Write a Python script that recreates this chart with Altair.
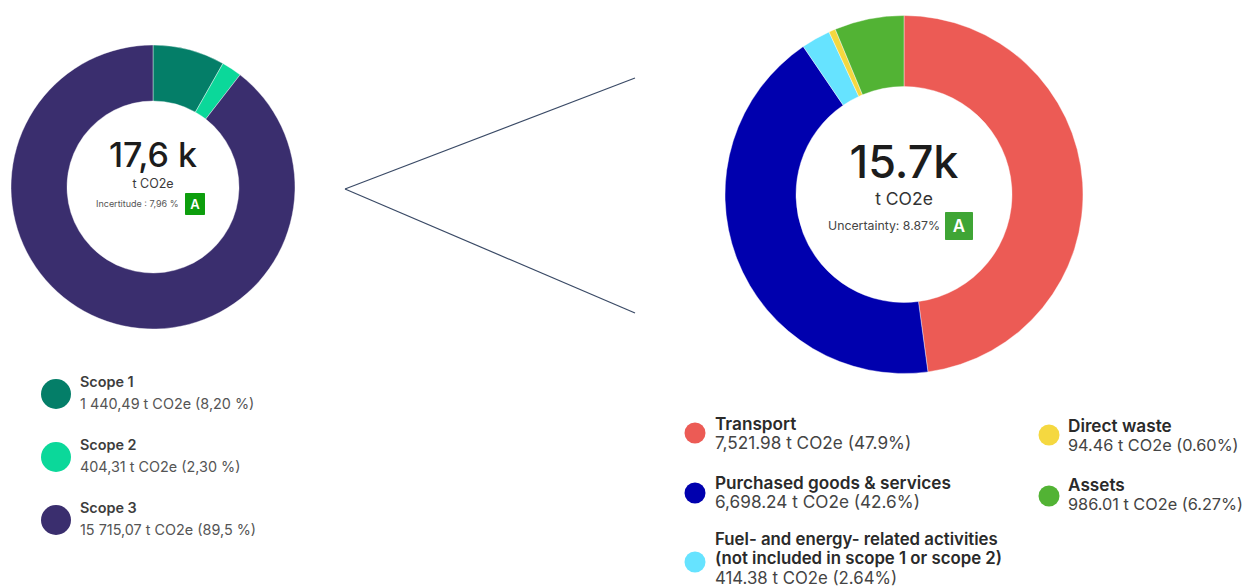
import altair as alt
import pandas as pd

FONT = "Inter"

scope_names = ["Scope 1", "Scope 2", "Scope 3"]
scope_values = [1440.49, 404.31, 15715.07]
scope_labels = ["1 440,49 t CO2e (8,20 %)", "404,31 t CO2e (2,30 %)", "15 715,07 t CO2e (89,5 %)"]
scope_colors = ["#047e68", "#0bd89a", "#3a2e6e"]

cat_names = ["Transport", "Purchased goods & services", "Fuel- and energy- related activities", "Direct waste", "Assets"]
cat_values = [7521.98, 6698.24, 414.38, 94.46, 986.01]
cat_labels = ["7,521.98 t CO2e (47.9%)", "6,698.24 t CO2e (42.6%)", "414.38 t CO2e (2.64%)",
              "94.46 t CO2e (0.60%)", "986.01 t CO2e (6.27%)"]
cat_colors = ["#ec5b55", "#0000ae", "#66e3ff", "#f5d840", "#52b334"]


def X(v):
    return alt.value(v - 8)


def Y(v):
    return alt.value(v - 8)


def donut(names, values, colors, cx, cy, r, r2):
    df = pd.DataFrame({"name": names, "value": values, "rank": range(len(names))})
    return alt.Chart(df).mark_arc(radius=r, radius2=r2, stroke="#ffffff", strokeWidth=0.4).encode(
        theta=alt.Theta("value:Q", stack=True),
        order=alt.Order("rank:Q"),
        color=alt.Color("name:N", scale=alt.Scale(domain=names, range=colors), legend=None),
        x=X(cx),
        y=Y(cy),
    )


def blank():
    return alt.Chart(pd.DataFrame({"k": [0]}))


def text(s, x, y, size, color="#2e2e2e", weight=400, align="left"):
    return blank().mark_text(text=s, font=FONT, fontSize=size, color=color, fontWeight=weight,
                             align=align, baseline="middle").encode(x=X(x), y=Y(y))


def dot(color, x, y, diameter):
    return blank().mark_point(shape="circle", filled=True, opacity=1, color=color,
                              size=diameter * diameter).encode(x=X(x), y=Y(y))


def badge(x0, x1, y0, y1, color, size):
    return [
        blank().mark_rect(color=color, cornerRadius=1).encode(x=X(x0), x2=X(x1), y=Y(y0), y2=Y(y1)),
        text("A", (x0 + x1) / 2, (y0 + y1) / 2 + 0.5, size, "#ffffff", 600, "center"),
    ]


def line(x0, y0, x1, y1):
    return blank().mark_rule(color="#3a4a66", strokeWidth=1.2).encode(x=X(x0), x2=X(x1), y=Y(y0), y2=Y(y1))


layers = [
    donut(scope_names, scope_values, scope_colors, 153, 187, 142, 86),
    donut(cat_names, cat_values, cat_colors, 904, 194.5, 179, 108),
    line(345, 189, 635, 78),
    line(345, 189, 635, 313),
    text("17,6 k", 153, 157, 34, "#1c1c1c", 500, "center"),
    text("t CO2e", 153, 184, 12.5, "#3a3a3a", 400, "center"),
    text("Incertitude : 7,96 %", 96, 203.5, 9, "#555555"),
    *badge(185, 205, 193, 215, "#0d9e0d", 13),
    text("15.7k", 904, 164, 45, "#1c1c1c", 500, "center"),
    text("t CO2e", 904, 199.5, 17.5, "#333333", 400, "center"),
    text("Uncertainty: 8.87%", 828, 226, 12.3, "#444444"),
    *badge(945, 973, 212, 240, "#3fa535", 17),
]

for i, yy in enumerate([382, 445, 508]):
    layers += [
        dot(scope_colors[i], 56, yy + 12, 30),
        text(scope_names[i], 80, yy + 0.5, 14.4, "#3d3d3d", 600),
        text(scope_labels[i], 80, yy + 23, 14.4, "#555555"),
    ]

cat_rows = [(695, 715, 433, 424.5, 444, 17.2), (695, 715, 493, 483.5, 503, 17.2), None,
            (1049, 1068, 435, 426.5, 445.5, 16.3), (1049, 1068, 496, 485.5, 505, 16.3)]
for i, row in enumerate(cat_rows):
    if row is None:
        continue
    dx, tx, dy, ty1, ty2, sub_size = row
    layers += [
        dot(cat_colors[i], dx, dy, 21),
        text(cat_names[i], tx, ty1, 17.2, "#2a2a2a", 600),
        text(cat_labels[i], tx, ty2, sub_size, "#444444"),
    ]

layers += [
    dot(cat_colors[2], 695, 562, 21),
    text(cat_names[2], 715, 540, 16.8, "#2a2a2a", 600),
    text("(not included in scope 1 or scope 2)", 715, 559, 16.8, "#2a2a2a", 600),
    text(cat_labels[2], 715, 578.5, 16.8, "#444444"),
]

chart = alt.layer(*layers).resolve_scale(theta="independent", color="independent").properties(
    width=1237, height=579, padding=0, background="#ffffff",
    autosize=alt.AutoSizeParams(type="none"),
).configure_view(stroke=None)

chart.save("out.html", embed_options={"renderer": "svg", "actions": False})
